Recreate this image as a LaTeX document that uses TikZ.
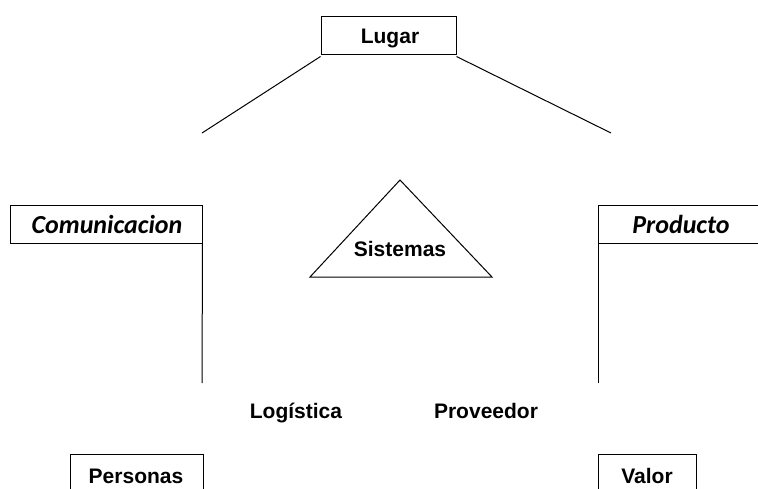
\documentclass[tikz,border=0pt]{standalone}
\usepackage{fontspec}
\setmainfont{Liberation Sans}
\newfontfamily\calib{Carlito}
\begin{document}
\begin{tikzpicture}[x=1pt,y=-1pt,line width=1pt,
  lbl/.style={font=\fontsize{21}{24}\selectfont\bfseries, inner sep=0pt, anchor=base},
  ital/.style={font=\calib\fontsize{26}{30}\selectfont\bfseries\itshape, inner sep=0pt, anchor=base},
  boxn/.style={draw, rectangle, inner sep=0pt}]
\useasboundingbox (0,0) rectangle (758,488);
% Lugar
\node[boxn, minimum width=135pt, minimum height=38pt] (lugarbox) at (388.5,35) {};
\node[lbl] (lugar) at (390,43) {Lugar};
\coordinate (lend) at (202,133);
\coordinate (rend) at (611,133);
\draw ([yshift=-2pt]lugarbox.south west) -- (lend);
\draw ([yshift=-2pt]lugarbox.south east) -- (rend);
% Comunicacion
\node[boxn, minimum width=192pt, minimum height=38pt] (combox) at (106,224) {};
\node[ital] (com) at (107,233) {Comunicacion};
\coordinate (comend) at (202,383);
\draw (combox.south east) -- (comend);
% Producto
\node[ital] (prod) at (681,233) {Producto};
\coordinate (pne) at (758,205);
\coordinate (pnw) at (598,205);
\coordinate (psw) at (598,243);
\coordinate (pse) at (758,243);
\coordinate (prodend) at (598,383);
\draw (pne) -- (pnw) -- (psw) -- (pse);
\draw (psw) -- (prodend);
% Sistemas triangle
\coordinate (tapex) at (400,180);
\coordinate (tleft) at (310,277);
\coordinate (tright) at (492,277);
\draw (tapex) -- (tleft) -- (tright) -- cycle;
\node[lbl] (sis) at (400,256) {Sistemas};
% labels
\node[lbl] (log) at (296,418) {Logística};
\node[lbl] (prov) at (486,418) {Proveedor};
% Personas
\node[lbl] (pers) at (136,483) {Personas};
\draw (70,490) -- (70,454) -- (203,454) -- (203,490);
% Valor
\node[lbl] (val) at (647,483) {Valor};
\draw (598,490) -- (598,454) -- (696,454) -- (696,490);
\end{tikzpicture}
\end{document}
